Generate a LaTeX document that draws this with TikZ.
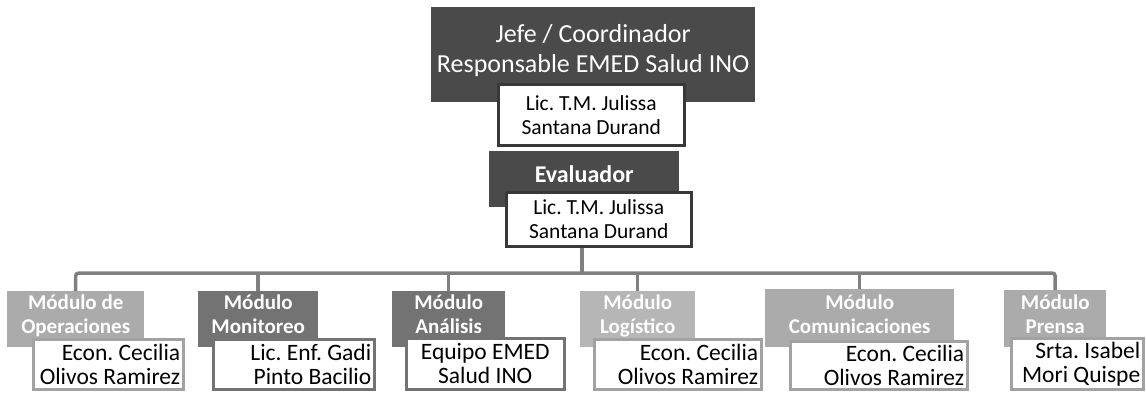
\documentclass[tikz,border=0pt]{standalone}
\usepackage{fontspec}
\setmainfont{Carlito}
\usetikzlibrary{positioning}
\definecolor{headgray}{HTML}{4A4A4A}
\definecolor{modlight}{HTML}{ABABAB}
\definecolor{moddark}{HTML}{737373}
\definecolor{loglight}{HTML}{B6B6B6}
\definecolor{linegray}{HTML}{808080}
\definecolor{borderdark}{HTML}{383838}
\definecolor{borderlight}{HTML}{A2A2A2}
\tikzset{
    darkbox/.style={ % coloured back box of each post
        fill=#1,
        anchor=north west,
        inner sep=0pt
    },
    titletext/.style={ % white heading inside a back box
        anchor=north,
        text=white,
        align=center,
        inner sep=0pt,
        font=\bfseries\fontsize{21}{23.5}\selectfont
    },
    namebox/.style={ % white box with the person's name
        draw=#1,
        line width=2.5pt,
        fill=white,
        anchor=north west,
        inner xsep=3pt,
        inner ysep=0pt,
        align=flush right,
        font=\frenchspacing\fontsize{23.5}{24}\selectfont
    },
    link/.style={
        draw=linegray,
        line width=3.5pt,
        rounded corners=3pt
    }
}
\begin{document}
\frenchspacing
\begin{tikzpicture}[x=1pt,y=-1pt]
\useasboundingbox (0,0) rectangle (1146,394);

% jefe
\node [darkbox=headgray,minimum width=324,minimum height=95] (jefe) at (431,7) {};
\node [titletext,font=\fontsize{26}{30}\selectfont,below=17pt of jefe.north] (jefetitle)
    {Jefe / Coordinador\\Responsable EMED Salud INO};
\node [namebox=borderdark,align=flush center,text width=180,minimum height=61,
    font=\frenchspacing\fontsize{21.5}{24}\selectfont] (jefename) at (497,83) {Lic. T.M. Julissa\\Santana Durand};

% evaluador
\node [darkbox=headgray,minimum width=190,minimum height=56] (eval) at (489,151) {};
\node [titletext,font=\bfseries\fontsize{24}{28}\selectfont,below=14pt of eval.north] (evaltitle) {Evaluador};
\node [namebox=borderdark,align=flush center,text width=179,minimum height=54,
    font=\frenchspacing\fontsize{21.5}{24}\selectfont] (evalname) at (505,191) {Lic. T.M. Julissa\\Santana Durand};

% modulos
\node [darkbox=modlight,minimum width=137,minimum height=56] (op) at (7,291) {};
\node [titletext,below=4pt of op.north] (optitle) {Módulo de\\Operaciones};
\node [namebox=borderlight,text width=144,minimum height=50] (opname) at (32,338) {Econ. Cecilia\\Olivos Ramirez};

\node [darkbox=moddark,minimum width=120,minimum height=56] (mon) at (198,291) {};
\node [titletext,below=4pt of mon.north] (montitle) {Módulo\\Monitoreo};
\node [namebox=moddark,text width=155,minimum height=50] (monname) at (212,338) {Lic. Enf. Gadi\\Pinto Bacilio};

\node [darkbox=moddark,minimum width=113,minimum height=56] (ana) at (392,291) {};
\node [titletext,below=4pt of ana.north] (anatitle) {Módulo\\Análisis};
\node [namebox=moddark,align=flush center,text width=152,minimum height=51] (ananame) at (405,337) {Equipo EMED\\Salud INO};

\node [darkbox=loglight,minimum width=115,minimum height=56] (log) at (580,291) {};
\node [titletext,below=4pt of log.north] (logtitle) {Módulo\\Logístico};
\node [namebox=borderlight,text width=161,minimum height=50] (logname) at (593,338) {Econ. Cecilia\\Olivos Ramirez};

\node [darkbox=modlight,minimum width=189,minimum height=58] (com) at (765,289) {};
\node [titletext,below=6pt of com.north] (comtitle) {Módulo\\Comunicaciones};
\node [namebox=borderlight,text width=171,minimum height=48] (comname) at (789,340) {Econ. Cecilia\\Olivos Ramirez};

\node [darkbox=modlight,minimum width=102,minimum height=57] (pre) at (1004,290) {};
\node [titletext,below=5pt of pre.north] (pretitle) {Módulo\\Prensa};
\node [namebox=borderlight,text width=126,minimum height=51] (prename) at (1010,337) {Srta. Isabel\\Mori Quispe};

% lineas
\coordinate (bus) at (582,273);
\draw [link] (bus |- evalname.south) -- (bus);
\draw [link] (op.north) -- (op.north |- bus) -- (pre.north |- bus) -- (pre.north);
\draw [link] (mon.north |- bus) -- (mon.north);
\draw [link] (ana.north |- bus) -- (ana.north);
\draw [link] (log.north |- bus) -- (log.north);
\draw [link] (com.north |- bus) -- (com.north);
\end{tikzpicture}
\end{document}
